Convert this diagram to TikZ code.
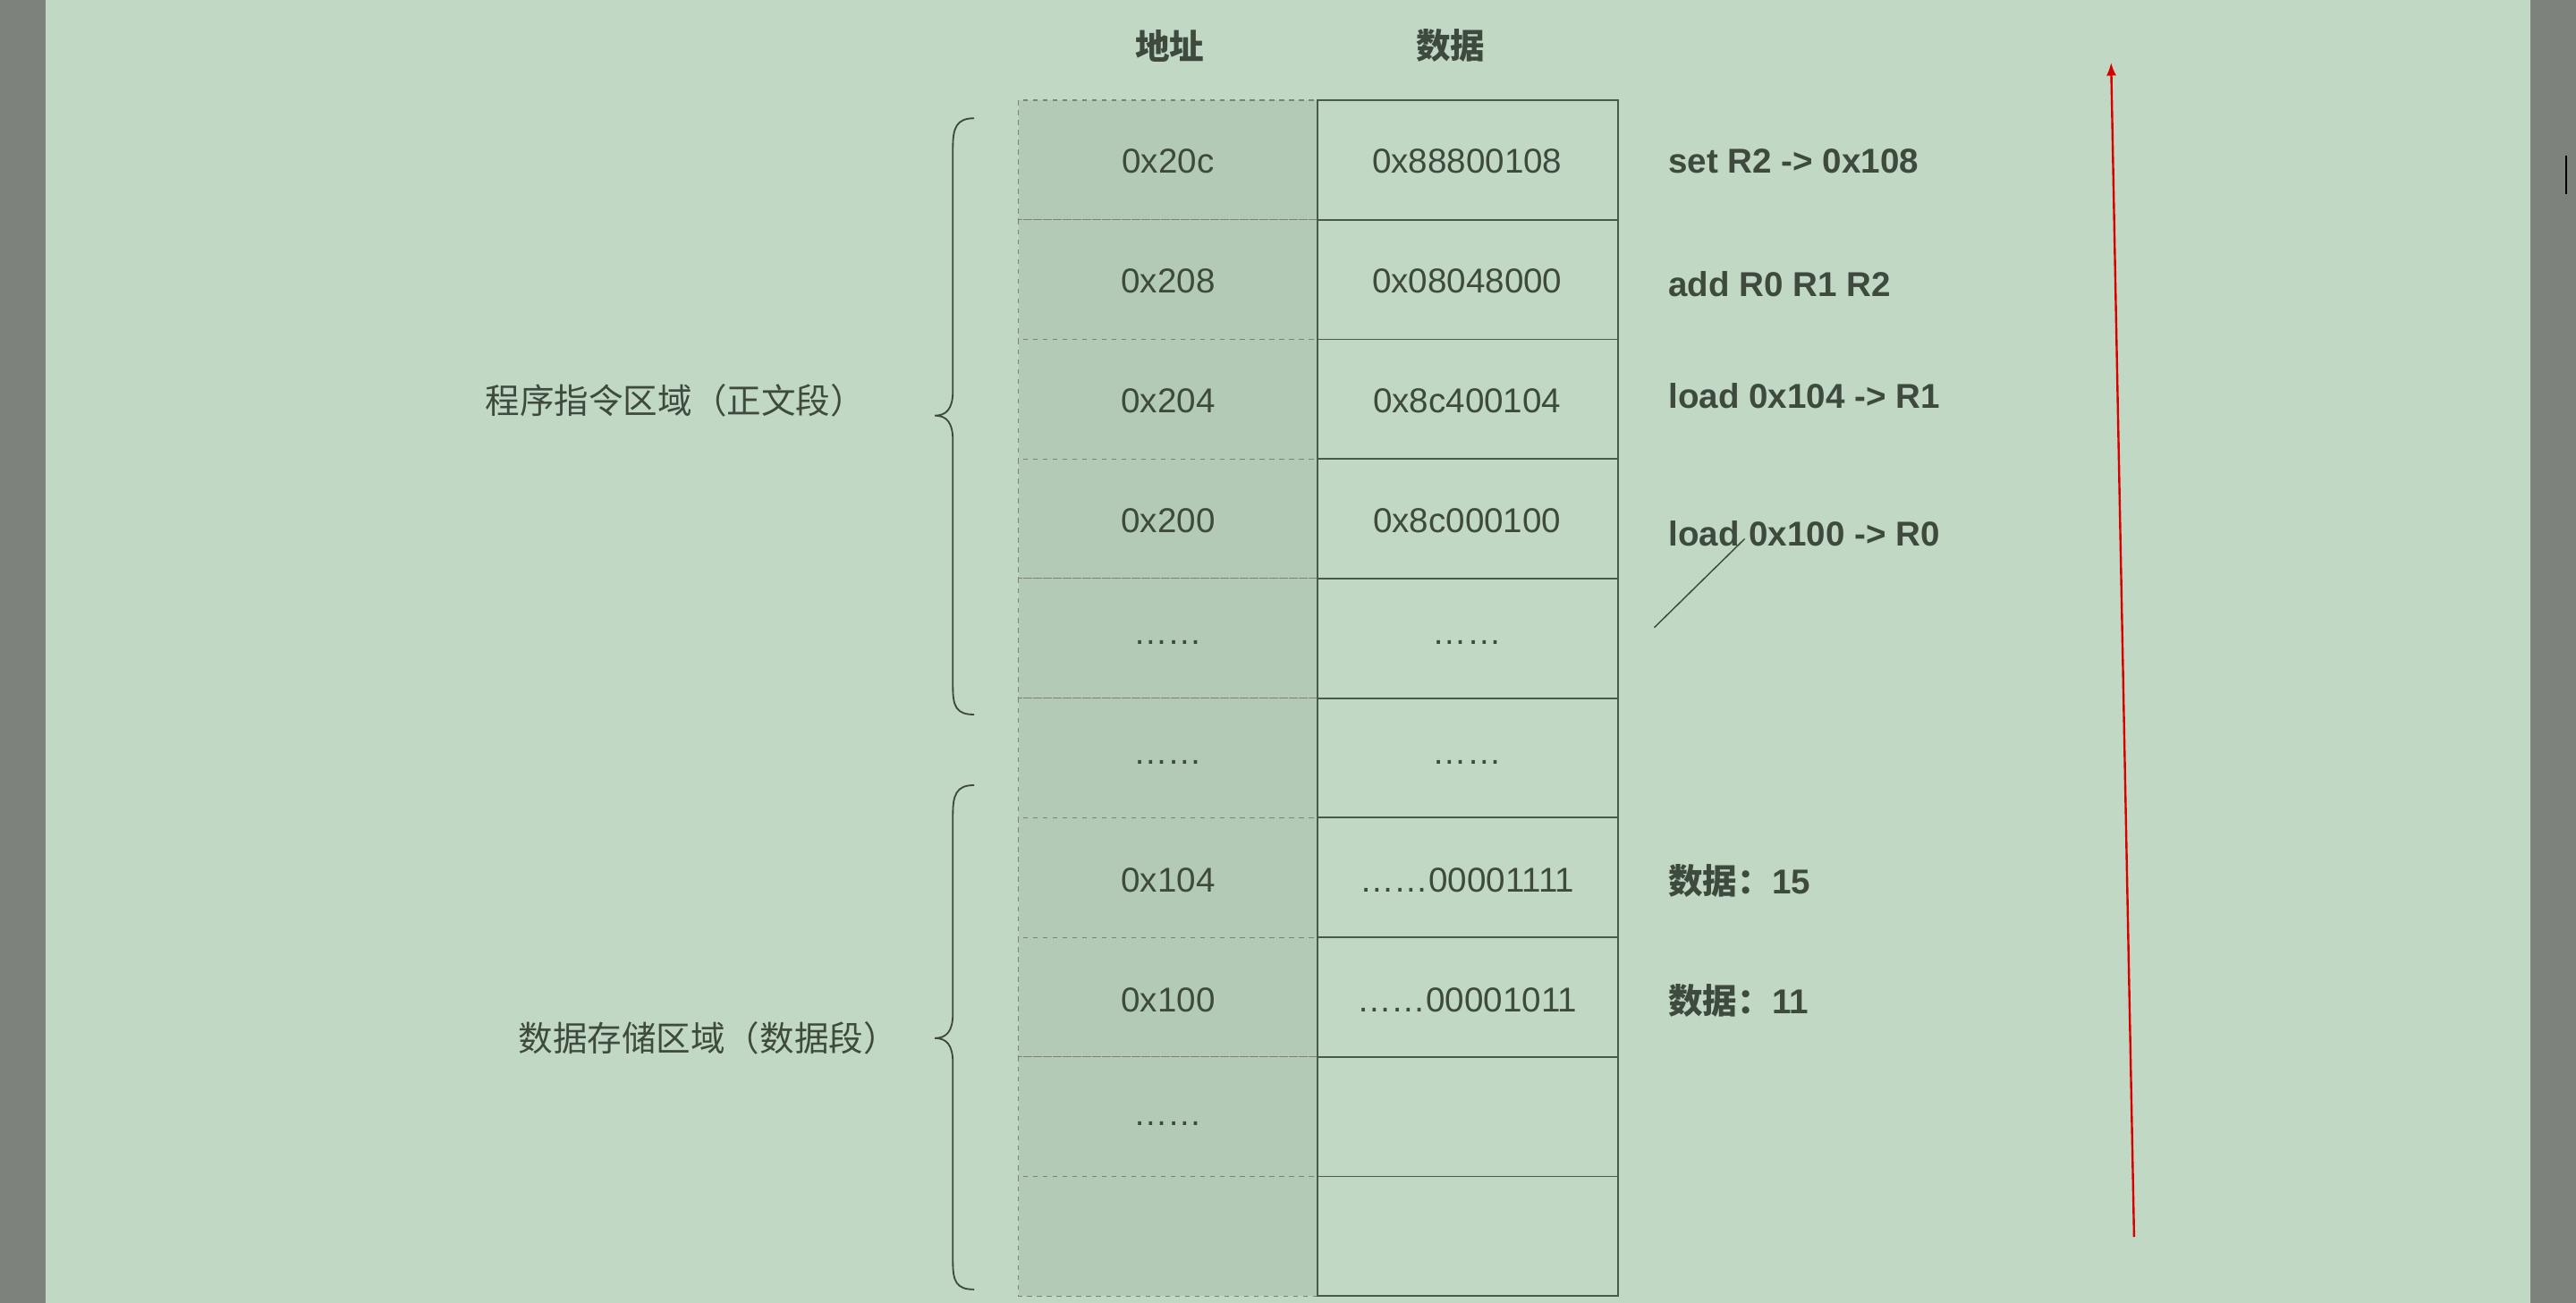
\documentclass[tikz,border=0pt]{standalone}
\usepackage{fontspec}
\setmainfont{Liberation Sans}
\newfontfamily\cjk{Noto Sans CJK SC}
\usetikzlibrary{arrows.meta}
\definecolor{bg}{HTML}{C1D8C4}
\definecolor{side}{HTML}{7D827D}
\definecolor{addr}{HTML}{B3CBB6}
\definecolor{txt}{HTML}{3F4A3F}
\definecolor{cellb}{HTML}{4A5A4A}
\begin{document}
\begin{tikzpicture}[x=1pt,y=-1pt,
  cell/.style={font=\fontsize{21}{21}\selectfont,text=txt},
  note/.style={font=\fontsize{21}{21}\selectfont\bfseries,text=txt,anchor=west},
  lbl/.style={font=\fontsize{21}{21}\selectfont\cjk,text=txt},
  bracel/.style={draw=txt,line width=1pt}]
\useasboundingbox (0,0) rectangle (1568,793);
\fill[side] (0,0) rectangle (1568,793);
\fill[bg] (28,0) rectangle (1540,793);
\draw[black,line width=1.2pt] (1562,95) -- (1562,118);
% columns
\def\ys{{61,133.8,206.6,279.4,352.2,425,497.8,570.6,643.4,716.2,789}}
\foreach \i in {0,...,9}{
  \pgfmathsetmacro\ya{\ys[\i]}\pgfmathsetmacro\yb{\ys[\i+1]}
  \fill[addr] (620,\ya) rectangle (802,\yb);
  \draw[gray,dashed,line width=0.6pt] (620,\ya) rectangle (802,\yb);
}
\foreach \i in {0,...,9}{
  \pgfmathsetmacro\ya{\ys[\i]}\pgfmathsetmacro\yb{\ys[\i+1]}
  \draw[cellb,line width=1pt] (802,\ya) rectangle (985,\yb);
}
\node[lbl,font=\fontsize{21}{21}\selectfont\cjk\bfseries] (h1) at (712,28) {地址};
\node[lbl,font=\fontsize{21}{21}\selectfont\cjk\bfseries] (h2) at (883,28) {数据};
\foreach \a/\d/\y [count=\k] in {0x20c/0x88800108/98,0x208/0x08048000/171,0x204/0x8c400104/244,0x200/0x8c000100/317,……/……/391,……/……/464,0x104/……00001111/536,0x100/……00001011/609,……//684}{
  \node[cell] (a\k) at (711,\y) {\a};
  \node[cell] (d\k) at (893,\y) {\d};
}
\node[note] (n1) at (1012,98) {set R2 -> 0x108};
\node[note] (n2) at (1012,173) {add R0 R1 R2};
\node[note] (n3) at (1012,241) {load 0x104 -> R1};
\node[note] (n4) at (1012,325) {load 0x100 -> R0};
\node[note] (n5) at (1012,536) {{\cjk 数据：}15};
\node[note] (n6) at (1012,609) {{\cjk 数据：}11};
\coordinate (l1) at (1007,382);
\coordinate (l2) at (1062,328);
\draw[txt,line width=0.8pt] (l1) -- (l2);
% braces
\draw[bracel] (593,72) .. controls (582,72) and (580,78) .. (580,90) -- (580,238)
  .. controls (580,249) and (576,253) .. (569,253) .. controls (576,253) and (580,257) .. (580,268)
  -- (580,418) .. controls (580,430) and (582,435) .. (593,435);
\draw[bracel] (593,478) .. controls (582,478) and (580,484) .. (580,496) -- (580,617)
  .. controls (580,628) and (576,632) .. (569,632) .. controls (576,632) and (580,636) .. (580,647)
  -- (580,768) .. controls (580,780) and (582,785) .. (593,785);
\node[lbl,anchor=east] (b1) at (530,244) {程序指令区域（正文段）};
\node[lbl,anchor=east] (b2) at (550,632) {数据存储区域（数据段）};
% red arrow
\coordinate (r1) at (1299,753);
\coordinate (r2) at (1285,38);
\draw[red!85!black,line width=1.3pt,-{Latex[length=8pt,width=6pt]}] (r1) -- (r2);
\end{tikzpicture}
\end{document}
